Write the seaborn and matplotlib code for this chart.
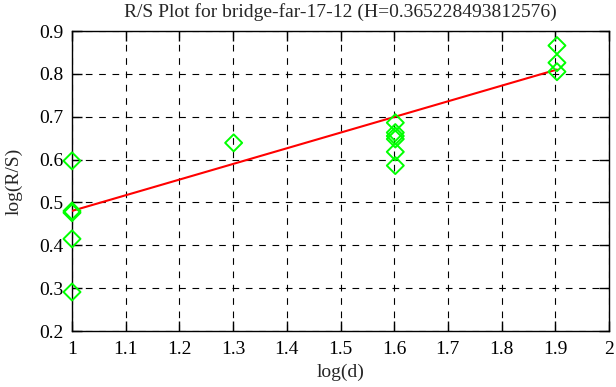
import numpy as np
import pandas as pd
import matplotlib
matplotlib.use("Agg")
import matplotlib.pyplot as plt
import seaborn as sns

# data
log_d = [1.0, 1.0, 1.0, 1.0, 1.0,
         1.30103,
         1.60206, 1.60206, 1.60206, 1.60206, 1.60206, 1.60206,
         1.90309, 1.90309, 1.90309]
log_rs = [0.597, 0.480, 0.476, 0.415, 0.291,
          0.639,
          0.686, 0.663, 0.655, 0.648, 0.618, 0.586,
          0.866, 0.826, 0.805]
H = 0.365228493812576
intercept = 0.115
fit_x = [1.0, 1.90309]
x_ticks = [1, 1.1, 1.2, 1.3, 1.4, 1.5, 1.6, 1.7, 1.8, 1.9, 2]
y_ticks = [0.2, 0.3, 0.4, 0.5, 0.6, 0.7, 0.8, 0.9]
title = "R/S Plot for bridge-far-17-12 (H=0.365228493812576)"

sns.set_style("ticks")
plt.rcParams['font.family'] = ['Liberation Serif', 'DejaVu Serif']

fig = plt.figure(figsize=(6.16, 3.87), dpi=100)
ax = fig.add_axes([72/616, 1-331/387, (609-72)/616, (331-31)/387])

df = pd.DataFrame({"x": log_d, "y": log_rs})
fit = pd.DataFrame({"x": fit_x, "y": [intercept + H * v for v in fit_x]})

sns.lineplot(data=fit, x="x", y="y", ax=ax, color="#ff0000", linewidth=1.5, zorder=3)
sns.scatterplot(data=df, x="x", y="y", ax=ax, marker="D", s=75,
                facecolor="none", edgecolor="#00ff00", linewidth=1.4, zorder=4,
                clip_on=False)

ax.set_xlim(1, 2)
ax.set_ylim(0.2, 0.9)
ax.set_xticks(x_ticks)
ax.set_xticklabels([f"{v:g}" for v in x_ticks])
ax.set_yticks(y_ticks)
ax.set_yticklabels([f"{v:g}" for v in y_ticks])
ax.grid(True, color="black", linestyle=(0, (6, 6)), linewidth=0.8)
ax.tick_params(direction="in", length=7, width=1, top=True, right=True,
               labelsize=14, colors="black")
ax.tick_params(axis="x", pad=7)
ax.tick_params(axis="y", pad=6)
for s in ax.spines.values():
    s.set_visible(True)
    s.set_color("black")
    s.set_linewidth(1.0)
ax.set_xlabel("log(d)", fontsize=14, labelpad=4)
ax.set_ylabel("log(R/S)", fontsize=14, labelpad=12)
ax.set_title(title, fontsize=14, pad=10)

fig.savefig("out.png", dpi=100)
